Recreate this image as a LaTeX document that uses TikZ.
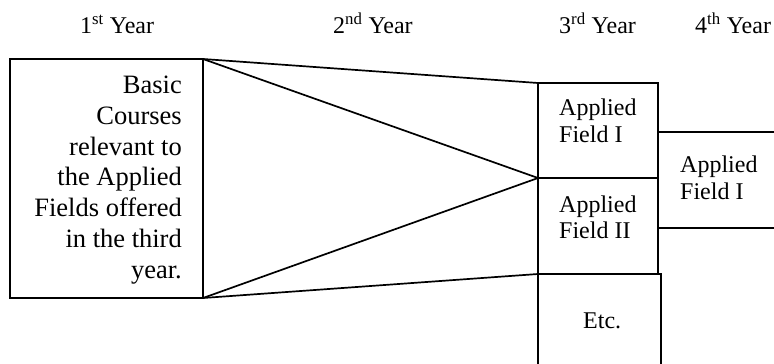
\documentclass[tikz,border=0pt]{standalone}
\usepackage{fontspec}
\setmainfont{Liberation Serif}
\begin{document}
\begin{tikzpicture}[x=1pt,y=-1pt,
  box/.style={draw=black,line width=1.7pt},
  ln/.style={draw=black,line width=1.7pt},
  ttl/.style={inner sep=0pt,anchor=base west,font=\fontsize{24}{27}\selectfont},
  big/.style={inner sep=0pt,anchor=base east,font=\fontsize{26.5}{31}\selectfont}]
\useasboundingbox (0,0) rectangle (774,364);
% titles
\node[ttl] (t1) at (80,34) {1\textsuperscript{st} Year};
\node[ttl] (t2) at (333,34) {2\textsuperscript{nd} Year};
\node[ttl] (t3) at (559,34) {3\textsuperscript{rd} Year};
\node[ttl] (t4) at (695,34) {4\textsuperscript{th} Year};
% first-year box
\coordinate (bnw) at (10,59);
\coordinate (bne) at (203,59);
\coordinate (bse) at (203,298);
\coordinate (bsw) at (10,298);
\draw[box] (bnw) -- (bne) -- (bse) -- (bsw) -- cycle;
\node[big] (l1) at (182,93) {Basic};
\node[big] (l2) at (182,124) {Courses};
\node[big] (l3) at (182,155) {relevant to};
\node[big] (l4) at (182,185) {the Applied};
\node[big] (l5) at (182,216) {Fields offered};
\node[big] (l6) at (182,247) {in the third};
\node[big] (l7) at (182,278) {year.};
% third-year boxes
\coordinate (a1nw) at (538,83);
\coordinate (a1ne) at (658,83);
\coordinate (a1sw) at (538,178);
\coordinate (a1se) at (658,178);
\coordinate (a2sw) at (538,274);
\coordinate (a2se) at (658,274);
\draw[box] (a1nw) -- (a1ne) -- (a2se) -- (a2sw) -- cycle;
\draw[ln] (a1sw) -- (a1se);
\node[ttl] (af1a) at (559,115) {Applied};
\node[ttl] (af1b) at (559,142) {Field I};
\node[ttl] (af2a) at (559,212) {Applied};
\node[ttl] (af2b) at (559,238) {Field II};
% etc box
\coordinate (eb1) at (538,364);
\coordinate (ent) at (538,274);
\coordinate (ene) at (661,274);
\coordinate (eb2) at (661,364);
\draw[line width=2.2pt] (eb1) -- (ent) -- (ene) -- (eb2);
\node[ttl] (etc) at (583,328) {Etc.};
% fourth-year box
\coordinate (f1) at (658,132);
\coordinate (f2) at (774,132);
\coordinate (f3) at (658,228);
\coordinate (f4) at (774,228);
\draw[ln] (f1) -- (f2);
\draw[ln] (f3) -- (f4);
\node[ttl] (af4a) at (680,172) {Applied};
\node[ttl] (af4b) at (680,199) {Field I};
% connectors
\draw[ln] (bne) -- (a1nw);
\draw[ln] (bne) -- (a1sw);
\draw[ln] (bse) -- (a1sw);
\draw[ln] (bse) -- (a2sw);
\end{tikzpicture}
\end{document}
